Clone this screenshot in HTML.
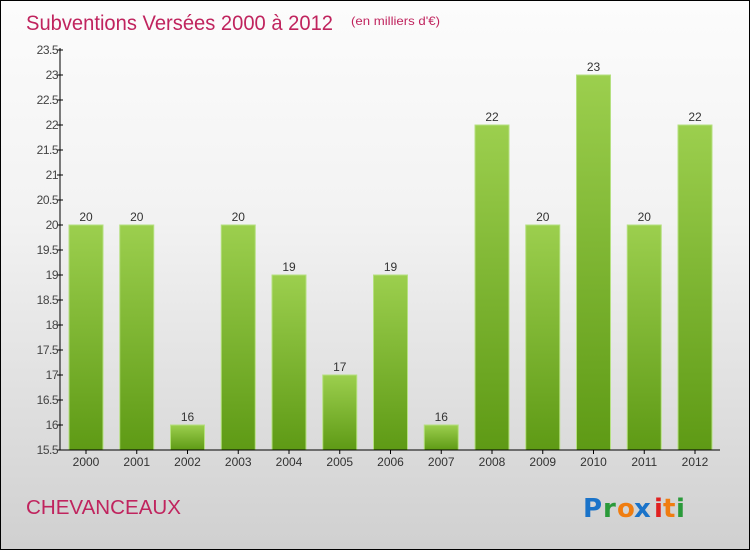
<!DOCTYPE html>
<html><head><meta charset="utf-8"><style>
html,body{margin:0;padding:0}
body{width:750px;height:550px;overflow:hidden;font-family:"Liberation Sans",sans-serif}
#frame{position:absolute;left:0;top:0;width:748px;height:548px;border:1px solid #000;background:linear-gradient(#fcfcfc,#f2f2f2 40%,#d0d0d0)}
</style></head><body>
<div id="frame"></div>
<svg id="c" width="750" height="550" style="position:absolute;left:0;top:0">
<defs><linearGradient id="g" x1="0" y1="0" x2="0" y2="1"><stop offset="0" stop-color="#9ccf4e"/><stop offset="1" stop-color="#5e9a15"/></linearGradient></defs>
<text x="26" y="30" font-size="21" fill="#c0245e" textLength="307" lengthAdjust="spacingAndGlyphs">Subventions Versées 2000 à 2012</text>
<text x="351" y="25" font-size="12" fill="#c0245e" textLength="89" lengthAdjust="spacingAndGlyphs">(en milliers d'€)</text>
<text x="26" y="514" font-size="20" fill="#c0245e" textLength="155" lengthAdjust="spacingAndGlyphs">CHEVANCEAUX</text>
<g font-size="26" font-weight="bold" font-family="'DejaVu Sans',sans-serif">
<text x="583" y="517" fill="#1a73c9">P</text><text x="603" y="517" fill="#2a9a3a">r</text><text x="617" y="517" fill="#f07d10">o</text><text x="634" y="517" fill="#1a73c9">x</text><text x="654" y="517" fill="#e02020">i</text><text x="663" y="517" fill="#f07d10">t</text><text x="676" y="517" fill="#2a9a3a">i</text></g>
<g id="plot"></g>
</svg>
<script>
const years=["2000","2001","2002","2003","2004","2005","2006","2007","2008","2009","2010","2011","2012"];
const values=[20,20,16,20,19,17,19,16,22,20,23,20,22];
const ticks=[15.5,16,16.5,17,17.5,18,18.5,19,19.5,20,20.5,21,21.5,22,22.5,23,23.5];
const NS="http://www.w3.org/2000/svg",p=document.getElementById('plot');
const y=v=>450-(v-15.5)*50, x=i=>86+i*50.75;
function mk(t,a,txt){const e=document.createElementNS(NS,t);for(const k in a)e.setAttribute(k,a[k]);if(txt!=null)e.textContent=txt;p.appendChild(e);return e;}
ticks.forEach(t=>{
 const l=mk('line',{x1:57,x2:63,y1:y(t),y2:y(t),stroke:'#000'});
 
 
 const tx=mk('text',{x:58,y:y(t)+4,'text-anchor':'end','font-size':12,fill:'#444','letter-spacing':'-0.5'},String(t));
 
 
});
values.forEach((v,i)=>{
 const b=mk('rect',{x:x(i)-17,y:y(v),width:34,height:450-y(v),fill:'url(#g)',stroke:'#b5e080','stroke-width':1});
 
 
 const vl=mk('text',{x:x(i),y:y(v)-4,'text-anchor':'middle','font-size':12,fill:'#333'},String(v));
 
 
 const xl=mk('text',{x:x(i),y:466,'text-anchor':'middle','font-size':12,fill:'#333'},years[i]);
 
 
 const xt=mk('line',{x1:x(i),x2:x(i),y1:450,y2:454,stroke:'#000'});
 
 
});
const ya=mk('line',{x1:60,x2:60,y1:48,y2:450,stroke:'#000'});


const xa=mk('line',{x1:60,x2:720,y1:450,y2:450,stroke:'#000'});


</script>
</body></html>
